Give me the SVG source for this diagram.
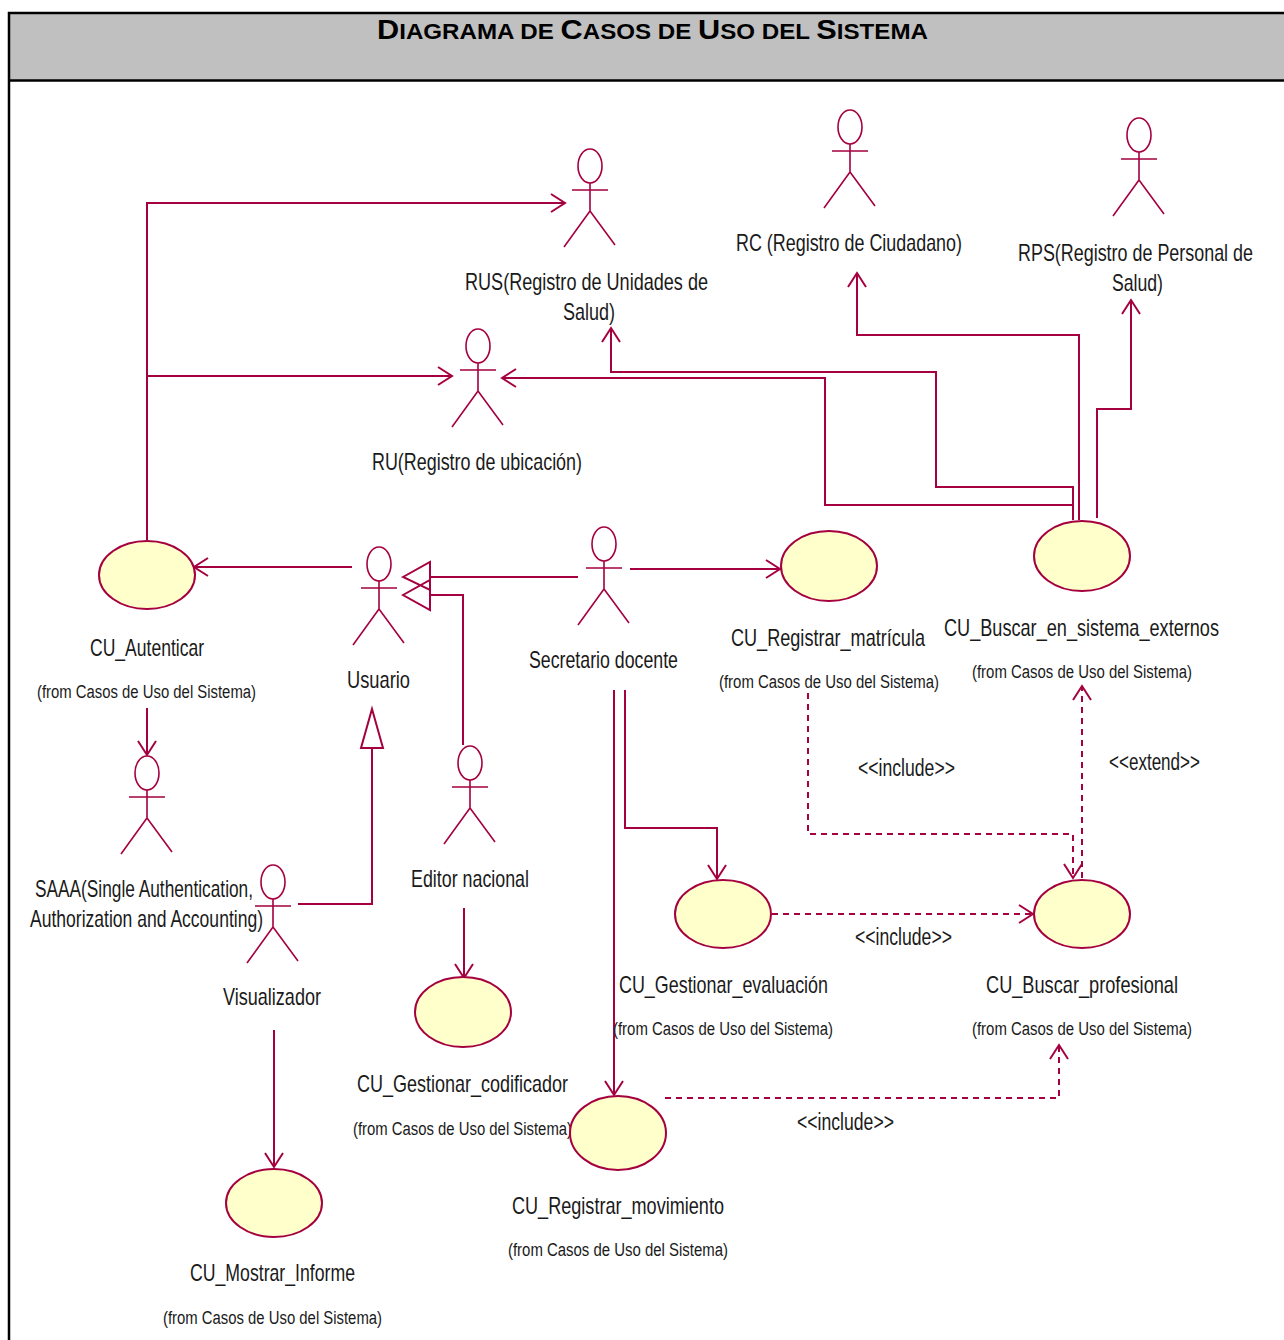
<svg xmlns="http://www.w3.org/2000/svg" xmlns:xlink="http://www.w3.org/1999/xlink" width="1284" height="1340" viewBox="0 0 1284 1340">
<style>
text{font-family:"Liberation Sans",Arial,sans-serif;fill:#1a1a1a}
.t{font-size:28px;font-weight:bold;fill:#000}
.s{font-size:23px}
.n{font-size:24px}
.f{font-size:18px}
.c{fill:none;stroke:#a5003f;stroke-width:2}
.d{stroke-dasharray:6 5}
.a{fill:none;stroke:#a5003f;stroke-width:1.6}
.u{fill:#ffffcb;stroke:#a5003f;stroke-width:2}
.h{fill:#fff;stroke:#a5003f;stroke-width:2}
</style>
<defs>
<marker id="o" markerUnits="userSpaceOnUse" markerWidth="20" markerHeight="24" refX="17" refY="12" orient="auto"><path d="M3 3L17 12L3 21" fill="none" stroke="#a5003f" stroke-width="2"/></marker>
<g id="actor"><ellipse cx="0" cy="17" rx="12" ry="17" class="a"/><path d="M0 34V62M-18 41H18M0 62L-26 98M0 62L25 96" class="a"/></g>
</defs>
<rect width="1284" height="1340" fill="#fff"/>
<g id="frame">
<rect x="9" y="13" width="1290" height="67" fill="#c0c0c0"/>
<path d="M9 1340V13H1284M9 80.500H1284" fill="none" stroke="#000" stroke-width="2.500"/>
<text class="t" x="377" y="39" textLength="551" lengthAdjust="spacingAndGlyphs">D<tspan font-size="22">IAGRAMA DE </tspan>C<tspan font-size="22">ASOS DE </tspan>U<tspan font-size="22">SO DEL </tspan>S<tspan font-size="22">ISTEMA</tspan></text>
</g>
<g id="connectors">
<path class="c" marker-end="url(#o)" d="M147 540V203H565"/>
<path class="c" marker-end="url(#o)" d="M147 376H452"/>
<path class="c" marker-end="url(#o)" d="M352 567H194"/>
<path class="c" marker-end="url(#o)" d="M147 708V755"/>
<path class="c" d="M578 577H430M430 595H463V745"/>
<path class="c" d="M403 577L430 562V590ZM403 595L430 580V610Z"/>
<path class="c" d="M298 904H372V748"/>
<path class="c" d="M372 709L383 748H361Z"/>
<path class="c" marker-end="url(#o)" d="M630 569H780"/>
<path class="c" marker-end="url(#o)" d="M625 690V828H717V879"/>
<path class="c" marker-end="url(#o)" d="M614 690V1095"/>
<path class="c" marker-end="url(#o)" d="M464 908V978"/>
<path class="c" marker-end="url(#o)" d="M274 1030V1167"/>
<path class="c d" marker-end="url(#o)" d="M772 914H1033"/>
<path class="c d" marker-end="url(#o)" d="M665 1098H1059V1045"/>
<path class="c d" marker-end="url(#o)" d="M808 693V834H1073V878"/>
<path class="c d" marker-end="url(#o)" d="M1082 878V686"/>
<path class="c" marker-end="url(#o)" d="M1079 520V335H857V273"/>
<path class="c" marker-end="url(#o)" d="M1097 518V409H1131V300"/>
<path class="c" marker-end="url(#o)" d="M1073 520V487H936V372H611V328"/>
<path class="c" marker-end="url(#o)" d="M1073 505H825V378H502"/>
</g>
<g id="rus"><use xlink:href="#actor" x="590" y="149"/><text class="n" x="465" y="290" textLength="243" lengthAdjust="spacingAndGlyphs">RUS(Registro de Unidades de</text><text class="n" x="563" y="320" textLength="52" lengthAdjust="spacingAndGlyphs">Salud)</text></g>
<g id="rc"><use xlink:href="#actor" x="850" y="110"/><text class="n" x="736" y="251" textLength="226" lengthAdjust="spacingAndGlyphs">RC (Registro de Ciudadano)</text></g>
<g id="rps"><use xlink:href="#actor" x="1139" y="118"/><text class="n" x="1018" y="261" textLength="235" lengthAdjust="spacingAndGlyphs">RPS(Registro de Personal de</text><text class="n" x="1112" y="291" textLength="51" lengthAdjust="spacingAndGlyphs">Salud)</text></g>
<g id="ru"><use xlink:href="#actor" x="478" y="329"/><text class="n" x="372" y="470" textLength="210" lengthAdjust="spacingAndGlyphs">RU(Registro de ubicación)</text></g>
<g id="usuario"><use xlink:href="#actor" x="379" y="547"/><text class="n" x="347" y="688" textLength="63" lengthAdjust="spacingAndGlyphs">Usuario</text></g>
<g id="secretario"><use xlink:href="#actor" x="604" y="527"/><text class="n" x="529" y="668" textLength="149" lengthAdjust="spacingAndGlyphs">Secretario docente</text></g>
<g id="saaa"><use xlink:href="#actor" x="147" y="756"/><text class="n" x="35" y="897" textLength="218" lengthAdjust="spacingAndGlyphs">SAAA(Single Authentication,</text><text class="n" x="30" y="927" textLength="233" lengthAdjust="spacingAndGlyphs">Authorization and Accounting)</text></g>
<g id="visualizador"><use xlink:href="#actor" x="273" y="865"/><text class="n" x="223" y="1005" textLength="98" lengthAdjust="spacingAndGlyphs">Visualizador</text></g>
<g id="editor"><use xlink:href="#actor" x="470" y="746"/><text class="n" x="411" y="887" textLength="118" lengthAdjust="spacingAndGlyphs">Editor nacional</text></g>
<g id="cu-autenticar"><ellipse class="u" cx="147" cy="575" rx="48" ry="34"/><text class="n" x="90" y="656" textLength="114" lengthAdjust="spacingAndGlyphs">CU_Autenticar</text><text class="f" x="37" y="698" textLength="219" lengthAdjust="spacingAndGlyphs">(from Casos de Uso del Sistema)</text></g>
<g id="cu-matricula"><ellipse class="u" cx="829" cy="566" rx="48" ry="35"/><text class="n" x="731" y="646" textLength="194" lengthAdjust="spacingAndGlyphs">CU_Registrar_matrícula</text><text class="f" x="719" y="688" textLength="220" lengthAdjust="spacingAndGlyphs">(from Casos de Uso del Sistema)</text></g>
<g id="cu-buscar-sistema"><ellipse class="u" cx="1082" cy="556" rx="48" ry="35"/><text class="n" x="944" y="636" textLength="275" lengthAdjust="spacingAndGlyphs">CU_Buscar_en_sistema_externos</text><text class="f" x="972" y="678" textLength="220" lengthAdjust="spacingAndGlyphs">(from Casos de Uso del Sistema)</text></g>
<g id="cu-evaluacion"><ellipse class="u" cx="723" cy="914" rx="48" ry="34"/><text class="n" x="619" y="993" textLength="209" lengthAdjust="spacingAndGlyphs">CU_Gestionar_evaluación</text><text class="f" x="613" y="1035" textLength="220" lengthAdjust="spacingAndGlyphs">(from Casos de Uso del Sistema)</text></g>
<g id="cu-profesional"><ellipse class="u" cx="1082" cy="914" rx="48" ry="34"/><text class="n" x="986" y="993" textLength="192" lengthAdjust="spacingAndGlyphs">CU_Buscar_profesional</text><text class="f" x="972" y="1035" textLength="220" lengthAdjust="spacingAndGlyphs">(from Casos de Uso del Sistema)</text></g>
<g id="cu-codificador"><ellipse class="u" cx="463" cy="1012" rx="48" ry="35"/><text class="n" x="357" y="1092" textLength="211" lengthAdjust="spacingAndGlyphs">CU_Gestionar_codificador</text><text class="f" x="353" y="1135" textLength="219" lengthAdjust="spacingAndGlyphs">(from Casos de Uso del Sistema)</text></g>
<g id="cu-movimiento"><ellipse class="u" cx="618" cy="1133" rx="48" ry="37"/><text class="n" x="512" y="1214" textLength="212" lengthAdjust="spacingAndGlyphs">CU_Registrar_movimiento</text><text class="f" x="508" y="1256" textLength="220" lengthAdjust="spacingAndGlyphs">(from Casos de Uso del Sistema)</text></g>
<g id="cu-informe"><ellipse class="u" cx="274" cy="1203" rx="48" ry="34"/><text class="n" x="190" y="1281" textLength="165" lengthAdjust="spacingAndGlyphs">CU_Mostrar_Informe</text><text class="f" x="163" y="1324" textLength="219" lengthAdjust="spacingAndGlyphs">(from Casos de Uso del Sistema)</text></g>
<g id="labels">
<text class="s" x="858" y="776" textLength="97" lengthAdjust="spacingAndGlyphs">&lt;&lt;include&gt;&gt;</text>
<text class="s" x="1109" y="770" textLength="91" lengthAdjust="spacingAndGlyphs">&lt;&lt;extend&gt;&gt;</text>
<text class="s" x="855" y="945" textLength="97" lengthAdjust="spacingAndGlyphs">&lt;&lt;include&gt;&gt;</text>
<text class="s" x="797" y="1130" textLength="97" lengthAdjust="spacingAndGlyphs">&lt;&lt;include&gt;&gt;</text>
</g>
</svg>
